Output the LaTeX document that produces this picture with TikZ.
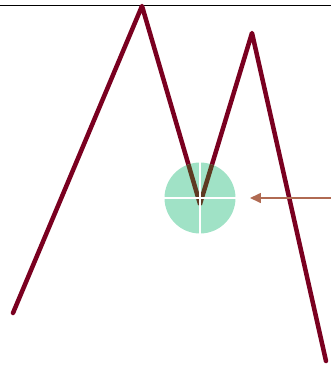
\documentclass[tikz,border=0pt]{standalone}
\usetikzlibrary{arrows.meta}
\definecolor{linered}{HTML}{7A0020}
\definecolor{zonegreen}{HTML}{A0E2C6}
\definecolor{innerbrown}{HTML}{5E3A22}
\definecolor{arrowbrown}{HTML}{B06A52}
\tikzset{
  price/.style={draw=linered, line width=4.5pt, line join=round, line cap=round},
  innerprice/.style={draw=innerbrown, line width=4.5pt, line join=round, line cap=round},
  zone/.style={fill=zonegreen, draw=none},
  cross/.style={draw=white, line width=2.6pt},
  pointer/.style={draw=arrowbrown, line width=1.6pt, -{Triangle[length=11pt,width=10pt]}},
  topline/.style={draw=black, line width=0.8pt}
}
\begin{document}
\begin{tikzpicture}[x=1pt,y=-1pt]
\useasboundingbox (0,0) rectangle (331,368);
\coordinate (tl) at (0,5);
\coordinate (tr) at (331,5);
\coordinate (start) at (13,313);
\coordinate (peak1) at (142,6);
\coordinate (vbot) at (200,204);
\coordinate (peak2) at (252,33);
\coordinate (end) at (326,361);
\coordinate (c) at (200,198);
\coordinate (arrtail) at (331,198);
\coordinate (arrhead) at (250,198);
\draw[topline] (tl) -- (tr);
\draw[price] (start) -- (peak1) -- (vbot) -- (peak2) -- (end);
\fill[zone] (c) circle (35.5);
\begin{scope}
  \clip (c) circle (35.5);
  \draw[innerprice] (peak1) -- (vbot) -- (peak2);
\end{scope}
\draw[cross] ([xshift=-36pt]c) -- ([xshift=36pt]c);
\draw[cross] ([yshift=-36pt]c) -- ([yshift=36pt]c);
\draw[pointer] (arrtail) -- (arrhead);
\end{tikzpicture}
\end{document}
